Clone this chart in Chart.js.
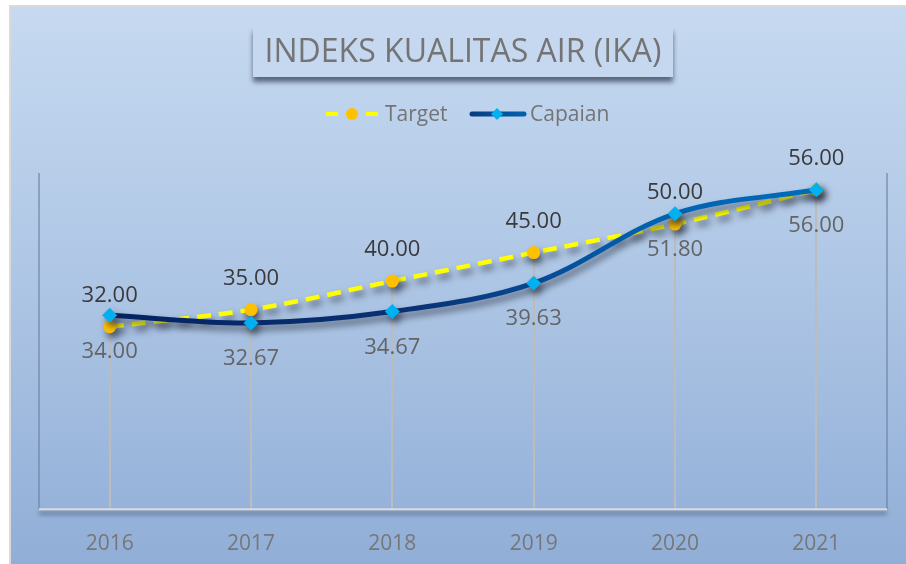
<!DOCTYPE html>
<html>
<head>
<meta charset="utf-8">
<script src="https://cdn.jsdelivr.net/npm/chart.js@4.4.1/dist/chart.umd.min.js"></script>
<style>
  html, body { margin: 0; padding: 0; background: #ffffff; }
  #wrap { position: relative; width: 906px; height: 564px; }
</style>
</head>
<body>
<div id="wrap"><canvas id="c" width="906" height="564"></canvas></div>
<script>
// ---- data ----
const titleText = 'INDEKS KUALITAS AIR (IKA)';
const categories = ['2016', '2017', '2018', '2019', '2020', '2021'];
const targetValues = [32.00, 35.00, 40.00, 45.00, 50.00, 56.00];
const capaianValues = [34.00, 32.67, 34.67, 39.63, 51.80, 56.00];
const seriesNames = ['Target', 'Capaian'];
const yMin = 0;
const yMax = 60;

const FONT = "'Open Sans', 'Liberation Sans', sans-serif";

function capaianGradient(ctx, area) {
  const g = ctx.createLinearGradient(area.left, 0, area.right, 0);
  g.addColorStop(0, '#021f5c');
  g.addColorStop(0.45, '#0a3276');
  g.addColorStop(0.72, '#0062b0');
  g.addColorStop(1, '#0070c0');
  return g;
}

const backgroundPlugin = {
  id: 'bg',
  beforeDraw(chart) {
    const ctx = chart.ctx;
    const W = chart.width, H = chart.height;
    ctx.save();
    ctx.fillStyle = '#ffffff';
    ctx.fillRect(0, 0, W, H);
    ctx.fillStyle = '#dadada';
    ctx.fillRect(9, 5, W - 9, 2);
    ctx.fillRect(9, 5, 2, H - 5);
    const g = ctx.createLinearGradient(0, 7, 0, H);
    g.addColorStop(0, '#c6d9f0');
    g.addColorStop(0.45, '#b0c8e6');
    g.addColorStop(1, '#91aed7');
    ctx.fillStyle = g;
    ctx.fillRect(11, 7, W - 11, H - 7);

    // title box
    const bx = 253, by = 27, bw = 420, bh = 50;
    ctx.save();
    ctx.shadowColor = 'rgba(30,40,60,0.65)';
    ctx.shadowBlur = 5;
    ctx.shadowOffsetX = 0;
    ctx.shadowOffsetY = 5;
    ctx.fillStyle = '#c5d8ef';
    ctx.fillRect(bx, by, bw, bh);
    ctx.restore();
    ctx.fillStyle = '#c5d8ef';
    ctx.fillRect(bx, by, bw, bh);
    ctx.fillStyle = '#747474';
    ctx.font = '32px ' + FONT;
    ctx.textAlign = 'center';
    ctx.textBaseline = 'middle';
    ctx.fillText(titleText, bx + bw / 2, by + bh / 2 + 1);

    // legend
    const ly = 114;
    ctx.textAlign = 'left';
    ctx.font = '21px ' + FONT;
    ctx.save();
    ctx.strokeStyle = '#ffff00';
    ctx.lineWidth = 4;
    ctx.setLineDash([12, 8]);
    ctx.beginPath();
    ctx.moveTo(326, ly); ctx.lineTo(381, ly);
    ctx.stroke();
    ctx.restore();
    ctx.fillStyle = '#ffc000';
    ctx.beginPath();
    ctx.arc(352, ly, 6, 0, Math.PI * 2);
    ctx.fill();
    ctx.fillStyle = '#747474';
    ctx.fillText(seriesNames[0], 385, ly + 1);
    const lg = ctx.createLinearGradient(470, 0, 526, 0);
    lg.addColorStop(0, '#0a3a80');
    lg.addColorStop(1, '#0062b0');
    ctx.strokeStyle = lg;
    ctx.lineWidth = 5;
    ctx.lineCap = 'round';
    ctx.beginPath();
    ctx.moveTo(472, ly); ctx.lineTo(524, ly);
    ctx.stroke();
    ctx.fillStyle = '#00b0f0';
    ctx.beginPath();
    ctx.moveTo(497 - 6, ly); ctx.lineTo(497, ly - 6); ctx.lineTo(497 + 6, ly); ctx.lineTo(497, ly + 6);
    ctx.closePath();
    ctx.fill();
    ctx.fillStyle = '#747474';
    ctx.fillText(seriesNames[1], 530, ly + 1);
    ctx.restore();
  },
  beforeDatasetsDraw(chart) {
    const ctx = chart.ctx;
    const a = chart.chartArea;
    const yScale = chart.scales.y;
    ctx.save();
    ctx.strokeStyle = 'rgba(105,125,160,0.55)';
    ctx.lineWidth = 2;
    ctx.beginPath();
    ctx.moveTo(a.left, a.top + 6); ctx.lineTo(a.left, a.bottom);
    ctx.moveTo(a.right, a.top + 6); ctx.lineTo(a.right, a.bottom);
    ctx.stroke();
    const m0 = chart.getDatasetMeta(0), m1 = chart.getDatasetMeta(1);
    ctx.strokeStyle = '#bcbcbc';
    ctx.lineWidth = 2;
    for (let i = 0; i < categories.length; i++) {
      const p0 = m0.data[i], p1 = m1.data[i];
      const top = Math.min(p0.y, p1.y);
      ctx.beginPath();
      ctx.moveTo(Math.round(p0.x), top);
      ctx.lineTo(Math.round(p0.x), yScale.getPixelForValue(yMin));
      ctx.stroke();
    }
    ctx.save();
    ctx.shadowColor = 'rgba(40,50,70,0.7)';
    ctx.shadowBlur = 4;
    ctx.shadowOffsetY = 4;
    ctx.strokeStyle = '#dcdcdc';
    ctx.lineWidth = 2;
    ctx.beginPath();
    ctx.moveTo(a.left, a.bottom); ctx.lineTo(a.right, a.bottom);
    ctx.stroke();
    ctx.restore();
    ctx.restore();
  },
  beforeDatasetDraw(chart) {
    const ctx = chart.ctx;
    ctx.save();
    ctx.shadowColor = 'rgba(35,40,55,0.65)';
    ctx.shadowBlur = 7;
    ctx.shadowOffsetX = 3;
    ctx.shadowOffsetY = 5;
  },
  afterDatasetDraw(chart) {
    chart.ctx.restore();
  },
  afterDatasetsDraw(chart) {
    const ctx = chart.ctx;
    ctx.save();
    ctx.font = '22px ' + FONT;
    ctx.textAlign = 'center';
    ctx.textBaseline = 'middle';
    chart.data.datasets.forEach((ds, di) => {
      const meta = chart.getDatasetMeta(di);
      meta.data.forEach((pt, i) => {
        const txt = ds.data[i].toFixed(2);
        if (ds.label === seriesNames[0]) {
          ctx.fillStyle = '#3a3a3a';
          ctx.fillText(txt, pt.x, pt.y - 31);
        } else {
          ctx.fillStyle = '#646464';
          ctx.fillText(txt, pt.x, pt.y + 36);
        }
      });
    });
    ctx.restore();
  }
};

new Chart(document.getElementById('c'), {
  type: 'line',
  data: {
    labels: categories,
    datasets: [
      {
        label: seriesNames[0],
        data: targetValues,
        order: 1,
        borderColor: '#ffff00',
        borderWidth: 4.5,
        borderDash: [14, 8],
        tension: 0.35,
        pointStyle: 'circle',
        pointRadius: 6.5,
        pointBackgroundColor: '#ffc000',
        pointBorderWidth: 0,
        pointBorderColor: '#ffc000',
        clip: false,
        fill: false
      },
      {
        label: seriesNames[1],
        data: capaianValues,
        order: 0,
        borderColor: (c) => {
          const area = c.chart.chartArea;
          if (!area) return '#0a3478';
          return capaianGradient(c.chart.ctx, area);
        },
        borderWidth: 5,
        tension: 0.35,
        pointStyle: 'rectRot',
        pointRadius: 7.5,
        pointBackgroundColor: '#00b0f0',
        pointBorderWidth: 0,
        pointBorderColor: '#00b0f0',
        clip: false,
        fill: false
      }
    ]
  },
  options: {
    responsive: false,
    animation: false,
    devicePixelRatio: 1,
    layout: { padding: { left: 39, right: 19, top: 167, bottom: -14.5 } },
    plugins: {
      legend: { display: false },
      title: { display: false },
      tooltip: { enabled: false }
    },
    scales: {
      x: {
        offset: true,
        grid: { display: false, drawTicks: false },
        border: { display: false },
        ticks: {
          color: '#777777',
          font: { family: FONT, size: 21 },
          padding: 22
        }
      },
      y: {
        display: false,
        min: yMin,
        max: yMax
      }
    }
  },
  plugins: [backgroundPlugin]
});
</script>
</body>
</html>
